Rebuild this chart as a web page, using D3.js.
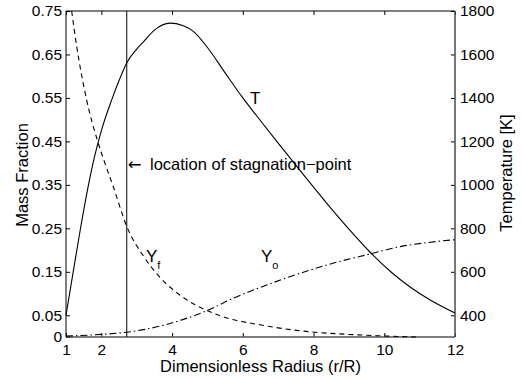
<!DOCTYPE html>
<html>
<head>
<meta charset="utf-8">
<script src="https://cdn.jsdelivr.net/npm/d3@7"></script>
<style>
  body { margin: 0; background: #fff; }
  svg { display: block; font-family: "Liberation Sans", Arial, Helvetica, sans-serif; }
  .axis path { display: none; }
  .axis line { stroke: #000; }
  .axis text { font-size: 15.5px; fill: #000; font-family: "Liberation Sans", Arial, sans-serif; }
</style>
</head>
<body>
<svg id="chart"></svg>
<script>
// radius positions and curves
var stagnationR = Math.E; // vertical line, location of stagnation point

var radiusT = [1, 1.2, 1.4, 1.6, 1.8, 2.0, 2.29, 2.5, 2.72, 3.0, 3.19, 3.5, 3.94, 4.3, 4.6, 5.0, 5.5, 6.0, 6.39, 7.0, 7.52, 8.0, 8.47, 9.0, 9.6, 10.2, 10.73, 11.3, 12];
var temperature = [400, 596, 790, 970, 1125, 1250, 1390, 1480, 1562, 1625, 1658, 1712, 1744, 1733, 1706, 1632, 1515, 1400, 1318, 1192, 1086, 990, 896, 796, 690, 598, 530, 470, 410];

var radiusYf = [1.16, 1.3, 1.585, 1.9, 2.1, 2.34, 2.72, 3.2, 3.66, 4.3, 4.98, 5.5, 6.49, 7.0, 7.9, 9.0, 9.8, 10.9];
var fuelFraction = [0.75, 0.67, 0.545, 0.449, 0.40, 0.345, 0.254, 0.185, 0.137, 0.092, 0.061, 0.045, 0.028, 0.021, 0.012, 0.006, 0.003, 0.0];

var radiusYo = [1, 2, 2.72, 3.66, 4.3, 4.98, 5.7, 6.49, 7.2, 7.9, 8.7, 9.6, 10.45, 11.2, 12];
var oxidFraction = [0.002, 0.006, 0.011, 0.025, 0.04, 0.0605, 0.088, 0.114, 0.135, 0.154, 0.173, 0.191, 0.208, 0.217, 0.224];

var xTicks = [1, 2, 4, 6, 8, 10, 12];
var massTicks = [0, 0.05, 0.15, 0.25, 0.35, 0.45, 0.55, 0.65, 0.75];
var tempTicks = [400, 600, 800, 1000, 1200, 1400, 1600, 1800];

var svgWidth = 523, svgHeight = 378;
var plotLeft = 66, plotRight = 455, plotTop = 11, plotBottom = 337;

var svg = d3.select("#chart").attr("width", svgWidth).attr("height", svgHeight);

var xScale = d3.scaleLinear().domain([1, 12]).range([plotLeft, plotRight]);
var yMass = d3.scaleLinear().domain([0, 0.75]).range([plotBottom, plotTop]);
var yTemp = d3.scaleLinear().domain([300, 1800]).range([plotBottom, plotTop]);

// axes, ticks pointing inward like matlab
svg.append("g").attr("class", "axis")
  .attr("transform", "translate(0," + plotBottom + ")")
  .call(d3.axisBottom(xScale).tickValues(xTicks).tickSizeInner(-4).tickSizeOuter(0).tickPadding(7).tickFormat(d3.format("d")));
svg.append("g").attr("class", "axis")
  .attr("transform", "translate(0," + plotTop + ")")
  .call(d3.axisTop(xScale).tickValues(xTicks).tickSizeInner(-4).tickSizeOuter(0).tickFormat(""));
svg.append("g").attr("class", "axis")
  .attr("transform", "translate(" + plotLeft + ",0)")
  .call(d3.axisLeft(yMass).tickValues(massTicks).tickSizeInner(-4).tickSizeOuter(0).tickPadding(4)
    .tickFormat(function(d) { return d === 0 ? "0" : d3.format(".2f")(d); }));
svg.append("g").attr("class", "axis")
  .attr("transform", "translate(" + plotRight + ",0)")
  .call(d3.axisRight(yTemp).tickValues(tempTicks).tickSizeInner(-4).tickSizeOuter(0).tickPadding(5).tickFormat(d3.format("d")));

// frame
svg.append("line").attr("x1", plotLeft).attr("x2", plotRight).attr("y1", plotTop).attr("y2", plotTop).attr("stroke", "#000");
svg.append("line").attr("x1", plotLeft).attr("x2", plotLeft).attr("y1", plotTop).attr("y2", plotBottom).attr("stroke", "#000");
svg.append("line").attr("x1", plotLeft).attr("x2", plotRight).attr("y1", plotBottom).attr("y2", plotBottom).attr("stroke", "#555").attr("stroke-width", 1.6);
svg.append("line").attr("x1", plotRight).attr("x2", plotRight).attr("y1", plotTop).attr("y2", plotBottom).attr("stroke", "#555").attr("stroke-width", 1.6);

// stagnation line
svg.append("line")
  .attr("x1", xScale(stagnationR)).attr("x2", xScale(stagnationR))
  .attr("y1", plotTop).attr("y2", plotBottom)
  .attr("stroke", "#000").attr("stroke-width", 1);

var tempLine = d3.line()
  .x(function(d, i) { return xScale(radiusT[i]); })
  .y(function(d) { return yTemp(d); })
  .curve(d3.curveMonotoneX);
var yfLine = d3.line()
  .x(function(d, i) { return xScale(radiusYf[i]); })
  .y(function(d) { return yMass(d); })
  .curve(d3.curveMonotoneX);
var yoLine = d3.line()
  .x(function(d, i) { return xScale(radiusYo[i]); })
  .y(function(d) { return yMass(d); })
  .curve(d3.curveMonotoneX);

svg.append("path").attr("d", tempLine(temperature))
  .attr("fill", "none").attr("stroke", "#000").attr("stroke-width", 1.1);
svg.append("path").attr("d", yfLine(fuelFraction))
  .attr("fill", "none").attr("stroke", "#000").attr("stroke-width", 1.1)
  .attr("stroke-dasharray", "5,4");
svg.append("path").attr("d", yoLine(oxidFraction))
  .attr("fill", "none").attr("stroke", "#000").attr("stroke-width", 1.1)
  .attr("stroke-dasharray", "7,3,1.5,3");

// axis titles
svg.append("text").attr("transform", "translate(22,175) rotate(-90)")
  .attr("text-anchor", "middle").attr("dy", "0.35em")
  .attr("font-size", "16.5px").text("Mass Fraction");
svg.append("text").attr("transform", "translate(506,173) rotate(-90)")
  .attr("text-anchor", "middle").attr("dy", "0.35em")
  .attr("font-size", "16.5px").text("Temperature [K]");
svg.append("text").attr("x", (plotLeft + plotRight) / 2).attr("y", 372)
  .attr("text-anchor", "middle").attr("font-size", "16.5px")
  .text("Dimensionless Radius (r/R)");

// curve labels
svg.append("text").attr("x", 250).attr("y", 104).attr("font-size", "17px").text("T");
var yf = svg.append("text").attr("x", 146).attr("y", 262).attr("font-size", "17px");
yf.append("tspan").text("Y");
yf.append("tspan").attr("font-size", "11px").attr("dy", 7).text("f");
var yo = svg.append("text").attr("x", 261).attr("y", 262).attr("font-size", "17px");
yo.append("tspan").text("Y");
yo.append("tspan").attr("font-size", "11px").attr("dy", 7).text("o");

// annotation
svg.append("text").attr("x", xScale(stagnationR) + 1).attr("y", 170)
  .attr("font-size", "16.5px").attr("font-family", "DejaVu Sans, sans-serif").text("\u2190");
svg.append("text").attr("x", 150).attr("y", 170)
  .attr("font-size", "16.5px").text("location of stagnation\u2212point");
</script>
</body>
</html>
